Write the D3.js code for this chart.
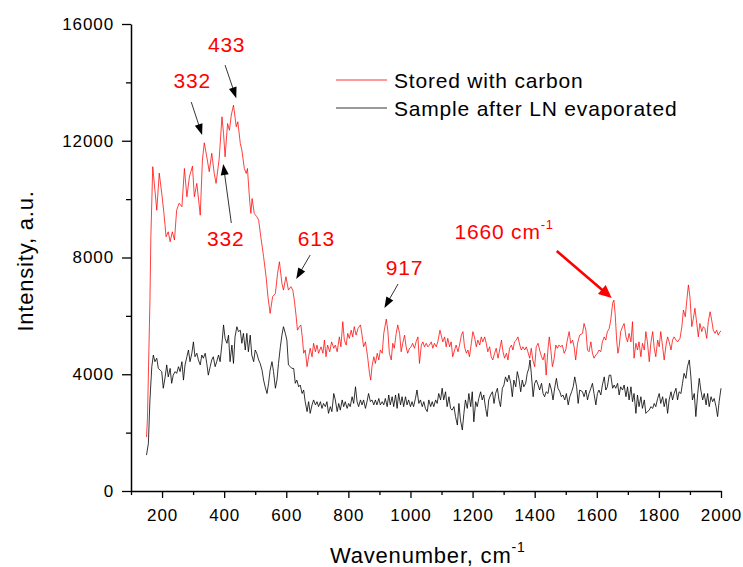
<!DOCTYPE html>
<html>
<head>
<meta charset="utf-8">
<script src="https://cdn.jsdelivr.net/npm/d3@7"></script>
<style>
  html, body { margin: 0; padding: 0; background: #fff; }
  svg { display: block; font-family: Arial, "Liberation Sans", sans-serif; }
</style>
</head>
<body>
<svg id="chart" width="743" height="567"></svg>
<script>
// ---- data ----
const seriesNames = ["Stored with carbon", "Sample after LN evaporated"];
const seriesColors = ["#ff0000", "#000000"];

const storedWavenumber = [150,153,158,161,164,170,183,191,199,206,213,220,226,233,240,247,255,264,272,280,288,298,304,312,323,330,336,344,352,360,368,374,384,393,398,403,411,417,423,430,439,444,452,457,465,471,475,482,486,490,497,505,511,518,527,535,541,548,556,565,572,578,586,591,599,607,615,621,
626,632,636,642,647,652,656,661,667,672,677,683,688,694,699,704,712,718,723,728,733,740,746,753,758,764,771,776,782,787,793,798,803,809,814,819,825,831,839,844,849,855,862,868,872,876,882,887,893,898,903,909,914,922,927,932,938,943,948,954,959,965,970,975,981,986,991,997,1002,1007,1013,1018,1024,1029,1035,1040,1045,1051,1056,1061,1067,1072,1077,1083,1088,1095,
1104,1110,1115,1120,1126,1131,1136,1142,1147,1153,1158,1164,1169,1174,1180,1185,1190,1196,1201,1206,1212,1217,1223,1228,1233,1239,1244,1249,1255,1260,1265,1271,1276,1282,1287,1293,1298,1303,1309,1314,1319,1325,1330,1335,1341,1346,1352,1357,1362,1368,1373,1378,1384,1389,1394,1400,1405,1411,1416,1422,1427,1432,1437,1443,1447,1452,1457,1462,1468,1473,1478,1484,1489,1495,1500,1505,1511,1516,1522,1527,1532,1538,1545,
1554,1559,1565,1570,1575,1581,1586,1591,1597,1602,1607,1613,1618,1624,1629,1634,1640,1645,1651,1655,1659,1664,1668,1672,1677,1683,1688,1694,1699,1704,1710,1715,1720,1726,1731,1736,1742,1747,1753,1758,1763,1769,1774,1780,1785,1790,1796,1801,1806,1812,1817,1823,1828,1833,1839,1844,1849,1855,1860,1868,1874,1879,1885,1890,1895,1900,1906,1911,1916,1922,1927,1932,1938,1943,1948,1954,1959,1965,1970,1975,1981,1986,1991,1997,2000];
const storedIntensity = [1850,2500,5000,6540,8710,11110,9620,10890,10200,9520,8710,8880,8540,8880,8600,9620,9860,9740,11050,10080,10760,11130,10080,10540,9450,11340,11930,11450,10940,11570,10880,10540,11390,12820,12250,11450,12590,12360,12880,13220,12480,12650,11910,11680,11050,10880,11050,9970,9510,10020,9510,9400,9280,8710,8025,7340,6655,6085,6655,6770,7456,7854,7113,6884,7340,6884,7000,6880,
6540,5970,5510,5630,5690,5230,4720,4830,4260,4600,4890,4600,5060,4770,5000,4720,4940,4720,5170,4600,5000,4770,5110,4890,5000,4770,5280,4940,5800,5170,5000,5400,5230,5510,5280,5630,5340,5570,5690,5340,4940,5110,4600,4030,3800,4260,4600,4370,4720,4490,4830,4720,5400,5890,5510,4720,4490,5060,4890,5400,5690,5400,4770,5060,5340,4940,4720,4890,4940,5060,4890,5110,5280,4370,5000,5110,4940,5060,4940,5000,5110,4890,5060,4940,5110,5510,
5110,5280,4940,5230,4940,5110,4600,4830,5000,4770,5000,5340,5460,4940,4720,4830,4600,5060,5460,5280,4940,5170,5000,5280,5110,5280,5060,4770,4940,4600,4490,4720,4890,4550,4830,5170,4770,4550,4720,4490,4890,5000,4830,5110,5170,5280,5000,4830,4940,4830,4940,4770,4550,4890,4490,4260,4940,5060,4830,4600,4490,4720,3970,4890,5280,4830,4260,4490,5000,4890,5000,4940,5000,4720,4830,5170,5460,5060,5170,4940,4490,5060,5340,
5400,5740,5510,4830,4770,5110,4720,4550,4660,4720,4830,4770,5110,5280,5170,5460,5570,5860,6430,6540,6090,5170,4720,4940,5460,5630,5740,5280,5110,5400,5110,5800,4550,5060,4830,5110,4600,5060,4830,5460,5110,4430,5060,5460,4890,4600,5170,4940,5460,4940,4490,5000,5280,5110,4830,5170,5280,5170,5110,5230,5630,6200,5970,6540,7060,6650,5630,5910,6260,5740,5280,5740,5460,5630,5570,5230,5800,6140,5860,5510,5400,5510,5340,5460,5480];

const sampleWavenumber = [150,156,161,167,172,177,183,188,194,199,204,210,215,220,226,231,236,242,247,253,258,264,269,274,280,285,290,296,301,306,312,317,323,328,333,339,344,349,355,360,365,371,376,382,387,393,398,403,409,414,419,425,430,435,441,446,452,457,462,468,473,478,484,489,495,500,505,511,516,522,527,532,538,543,548,554,559,565,570,575,581,586,591,597,602,607,613,618,624,629,634,640,645,651,656,661,667,672,677,683,688,694,699,704,710,715,720,726,731,736,742,747,753,758,764,769,774,780,785,790,796,801,806,812,817,823,828,833,839,844,849,855,860,865,871,876,882,887,892,898,903,909,914,919,925,930,935,941,946,952,957,962,968,973,978,984,989,994,1000,1005,1010,1016,1021,1027,1032,1038,1043,1048,1054,1059,1065,1070,1075,1081,1086,1091,
1097,1102,1107,1113,1118,1124,1129,1134,1140,1145,1151,1156,1161,1167,1172,1177,1183,1188,1194,1199,1204,1210,1215,1220,1226,1231,1236,1242,1247,1252,1258,1264,1269,1274,1280,1285,1290,1296,1301,1306,1312,1317,1323,1328,1333,1339,1344,1349,1355,1360,1365,1371,1376,1381,1385,1389,1395,1400,1405,1411,1416,1422,1427,1432,1437,1443,1448,1454,1459,1465,1470,1475,1481,1486,1491,1497,1502,1508,1513,1519,1524,1529,1535,1540,1545,
1554,1559,1565,1570,1575,1581,1586,1591,1597,1602,1607,1613,1618,1624,1629,1634,1640,1645,1651,1656,1661,1667,1672,1677,1683,1688,1694,1699,1704,1710,1715,1720,1726,1731,1736,1742,1747,1753,1758,1763,1769,1774,1780,1785,1790,1796,1801,1806,1812,1817,1823,1828,1833,1839,1844,1849,1855,1860,1865,1871,1876,1881,1887,1892,1898,1903,1908,1914,1919,1925,1930,1935,1941,1946,1952,1957,1962,1968,1973,1978,1984,1989,1994,2000];
const sampleIntensity = [1230,1630,3120,4260,4660,4430,4550,4200,4140,4090,3520,3910,4320,3910,4200,3690,3970,4090,4030,4260,4090,4430,3800,4320,4600,4830,4430,4720,5110,4600,4720,4490,4320,4660,4550,4720,4370,3970,4260,4490,4600,4260,4430,4660,4430,5060,5690,5230,5060,5340,4430,5000,4370,5280,5630,5460,5510,5060,5400,4830,5400,4770,5340,4660,4430,4830,4720,4490,4370,4140,3800,3570,3340,3690,4140,4430,4090,3520,3800,4370,4940,5340,5630,5400,5170,4320,4260,4200,4200,3690,3800,3570,3630,3340,3460,3060,2720,3060,2660,2950,3120,2950,3060,2890,3060,2830,3000,2890,3060,2660,2890,2720,3340,3120,2720,3000,2770,3120,2890,3060,2830,3000,2890,3230,3000,3570,3060,2890,3120,2950,3120,2830,3060,3340,3060,3120,2950,3120,2950,3170,2950,3060,2950,3170,2890,3290,2950,3230,2890,3290,2830,3340,2950,3230,2890,3230,2950,3120,2890,3060,2890,3170,3460,3000,3120,2890,3060,2830,2720,3120,2890,3060,2890,3120,3000,3340,
3120,3520,3120,3400,2890,3230,2830,2770,2890,2550,2260,3000,2430,2090,2660,3120,2830,3340,2890,3400,2370,3060,2890,3170,3400,3120,3290,2830,2550,3120,3290,3400,3000,3340,3520,3120,2890,3520,3630,3910,3740,3970,3690,3230,3800,3570,4090,3860,3400,3800,3570,3690,4030,4200,4490,4030,3230,3690,3800,3630,3460,3690,3340,3230,3400,3340,3690,3460,3120,3570,3860,3520,3400,3230,3290,3120,3340,2950,3230,3400,3570,3910,3570,3000,3460,
3400,3230,3460,3120,3340,3520,3690,3340,2950,3340,3460,3290,3630,3910,3460,3570,3970,3970,3520,3630,3520,3690,3290,3570,3460,3630,3230,3570,3120,3570,3060,3340,2660,3290,2890,3230,2830,3120,2660,2720,2770,2890,2830,3000,2890,3170,3340,3000,3230,2890,3170,2660,3120,3400,3120,3340,3520,3120,3400,3340,3690,4030,3860,4260,4490,3910,3120,3340,2550,3340,3860,3460,3120,3340,2950,3340,2890,3230,3060,3170,2890,2550,3060,3520];

const xTicks = [200,400,600,800,1000,1200,1400,1600,1800,2000];
const xMinorTicks = [100,300,500,700,900,1100,1300,1500,1700,1900];
const yTicks = [0,4000,8000,12000,16000];
const yMinorTicks = [2000,6000,10000,14000];

const xTitle = "Wavenumber, cm";
const xTitleSup = "-1";
const yTitle = "Intensity, a.u.";

// peak annotations: label, label anchor (wavenumber, intensity), arrow from -> to
const annLabels = ["433", "332", "332", "613", "917"];
const annLabelW = [408, 297, 405, 697, 981];
const annLabelI = [15036, 13807, 8394, 8394, 7400];
const annFromW = [403, 294, 423, 677, 960];
const annFromI = [14590, 13327, 9182, 8086, 7092];
const annToW = [439, 329, 397, 632, 916];
const annToI = [13460, 12197, 11203, 7263, 6270];

const bandLabel = "1660 cm";
const bandLabelSup = "-1";
const bandLabelW = 1142, bandLabelI = 8634;
const bandArrowFrom = [1471, 8223];
const bandArrowTo = [1648, 6612];

// ---- drawing ----
const svg = d3.select("#chart");
const x = d3.scaleLinear().domain([100, 2000]).range([131, 721]);
const y = d3.scaleLinear().domain([0, 16000]).range([491, 24]);

const FONT = 'Arial, "Liberation Sans", sans-serif';

// series
const series = [
  {w: storedWavenumber, v: storedIntensity, color: seriesColors[0], width: 0.75},
  {w: sampleWavenumber, v: sampleIntensity, color: seriesColors[1], width: 0.8}
];
const line = d3.line().x(d => x(d[0])).y(d => y(d[1]));
series.forEach(s => {
  const pts = s.w.map((w, i) => [w, s.v[i]]);
  svg.append("path")
    .attr("d", line(pts))
    .attr("fill", "none")
    .attr("stroke", s.color)
    .attr("stroke-width", s.width)
    .attr("stroke-linejoin", "round");
});

// axes
function styleAxis(g) {
  g.selectAll("path.domain").attr("stroke", "#000").attr("stroke-width", 1.5);
  g.selectAll(".tick line").attr("stroke", "#000").attr("stroke-width", 1.3);
  g.selectAll(".tick text")
    .attr("fill", "#000")
    .style("font-family", FONT)
    .style("font-size", "17px")
    .style("letter-spacing", "0.9px");
}

const gxMinor = svg.append("g").attr("transform", "translate(0,491)")
  .call(d3.axisBottom(x).tickValues(xMinorTicks).tickSize(4).tickFormat(""));
gxMinor.select("path.domain").remove();
gxMinor.selectAll(".tick line").attr("stroke", "#000").attr("stroke-width", 1.3);

const gx = svg.append("g").attr("transform", "translate(0,491)")
  .call(d3.axisBottom(x).tickValues(xTicks).tickSize(7).tickSizeOuter(0).tickPadding(11).tickFormat(d3.format("d")));
styleAxis(gx);

const gyMinor = svg.append("g").attr("transform", "translate(131,0)")
  .call(d3.axisLeft(y).tickValues(yMinorTicks).tickSize(5).tickFormat(""));
gyMinor.select("path.domain").remove();
gyMinor.selectAll(".tick line").attr("stroke", "#000").attr("stroke-width", 1.3);

const gy = svg.append("g").attr("transform", "translate(131,0)")
  .call(d3.axisLeft(y).tickValues(yTicks).tickSize(9).tickSizeOuter(0).tickPadding(8).tickFormat(d3.format("d")));
styleAxis(gy);

// axis titles
const xt = svg.append("text")
  .attr("x", 330).attr("y", 563)
  .style("font-family", FONT).style("font-size", "22px").style("letter-spacing", "0.8px")
  .attr("fill", "#000");
xt.append("tspan").text(xTitle);
xt.append("tspan").attr("dy", -11).style("font-size", "14px").text(xTitleSup);

svg.append("text")
  .attr("transform", "translate(33,261) rotate(-90)")
  .attr("text-anchor", "middle")
  .style("font-family", FONT).style("font-size", "22px").style("letter-spacing", "0.8px")
  .attr("fill", "#000")
  .text(yTitle);

// legend
const legendY = [80, 108];
seriesNames.forEach((name, i) => {
  svg.append("line")
    .attr("x1", 336).attr("x2", 387).attr("y1", legendY[i]).attr("y2", legendY[i])
    .attr("stroke", seriesColors[i]).attr("stroke-width", 0.8);
  svg.append("text")
    .attr("x", 394).attr("y", legendY[i] + 8)
    .style("font-family", FONT).style("font-size", "21px").style("letter-spacing", "0.8px")
    .attr("fill", "#000")
    .text(name);
});

// arrow helper
function arrow(x1, y1, x2, y2, color, width, headLen, headHalf) {
  const dx = x2 - x1, dy = y2 - y1, L = Math.hypot(dx, dy);
  const ux = dx / L, uy = dy / L;
  const bx = x2 - ux * headLen, by = y2 - uy * headLen;
  svg.append("line")
    .attr("x1", x1).attr("y1", y1).attr("x2", bx + ux * 1).attr("y2", by + uy * 1)
    .attr("stroke", color).attr("stroke-width", width);
  svg.append("path")
    .attr("d", `M${x2},${y2}L${bx - uy * headHalf},${by + ux * headHalf}L${bx + uy * headHalf},${by - ux * headHalf}Z`)
    .attr("fill", color);
}

// peak annotations
annLabels.forEach((lab, i) => {
  svg.append("text")
    .attr("x", x(annLabelW[i])).attr("y", y(annLabelI[i]))
    .attr("text-anchor", "middle")
    .style("font-family", FONT).style("font-size", "21px").style("letter-spacing", "0.8px")
    .attr("fill", "#ff0000")
    .text(lab);
  arrow(x(annFromW[i]), y(annFromI[i]), x(annToW[i]), y(annToI[i]), "#000", 0.8, 11, 4);
});

// 1660 band label
const bt = svg.append("text")
  .attr("x", x(bandLabelW)).attr("y", y(bandLabelI))
  .style("font-family", FONT).style("font-size", "21px").style("letter-spacing", "0.8px")
  .attr("fill", "#ff0000");
bt.append("tspan").text(bandLabel);
bt.append("tspan").attr("dy", -10).style("font-size", "13px").text(bandLabelSup);
arrow(x(bandArrowFrom[0]), y(bandArrowFrom[1]), x(bandArrowTo[0]), y(bandArrowTo[1]), "#ff0000", 2.6, 13, 6);
</script>
</body>
</html>
